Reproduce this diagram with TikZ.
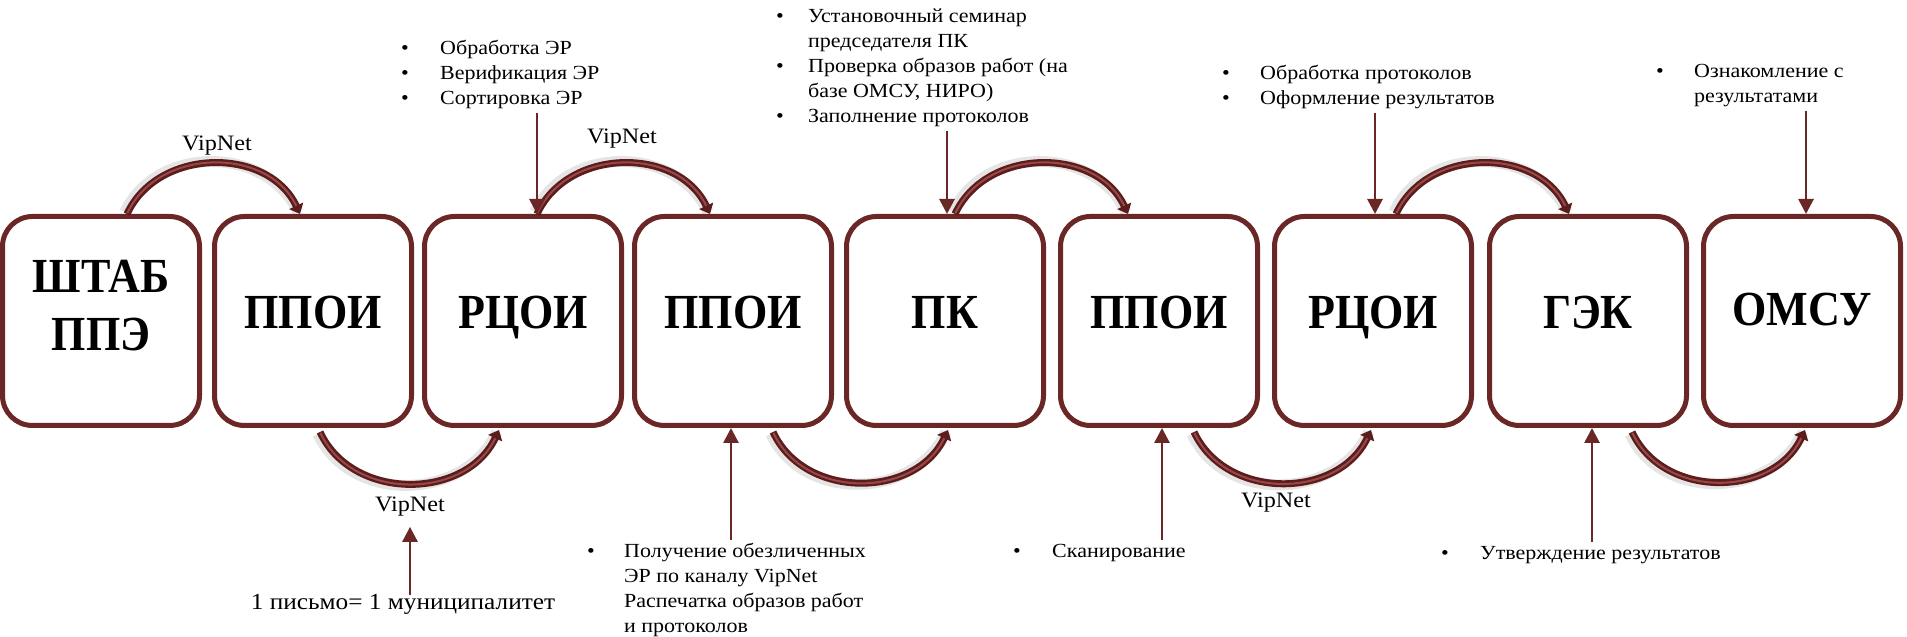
\documentclass[tikz,border=0pt]{standalone}
\usepackage{fontspec}
\setmainfont{Liberation Serif}[FakeStretch=1.1]
\newfontfamily\stagefont{Liberation Serif}[FakeStretch=0.9]
\definecolor{M}{RGB}{107,38,38}
\definecolor{Mdark}{RGB}{92,28,28}
\definecolor{Mlight}{RGB}{152,72,72}
\usetikzlibrary{arrows.meta}
\usetikzlibrary{calc}
\newcommand*{\notelist}[2]{\begin{tabular}[t]{@{}p{#1}@{}l@{}}#2\end{tabular}}
\newcommand*{\hoparc}[5]{%
  \draw [hopshade, transform canvas={shift={#5}}] (#1) to[out=#3,in=#4] (#2);
  \draw [hop] (#1) to[out=#3,in=#4] (#2);
  \draw [hopshine] (#1) to[out=#3,in=#4] (#2);
}
\tikzset{
  stage/.style={draw=M, line width=5pt, fill=white, rounded corners=30pt,
    minimum width=197pt, minimum height=209pt, inner sep=0pt},
  stagename/.style={font=\stagefont\bfseries\fontsize{49}{58}\selectfont,
    align=center, inner sep=0pt, text depth=0pt},
  note/.style={font=\fontsize{20}{25}\selectfont, anchor=base west, inner sep=0pt},
  vipnet/.style={font=\fontsize{22}{26}\selectfont, anchor=base, inner sep=0pt},
  feed/.style={draw=M, line width=2.8pt, -{Triangle[length=15pt,width=15pt]}},
  hop/.style={draw=Mdark, line width=7pt, looseness=1.1,
    -{Triangle[length=9pt,width=15pt]}},
  hopshine/.style={draw=Mlight, line width=2pt, looseness=1.1,
    shorten >=9pt, shorten <=1pt},
  hopshade/.style={draw=black, opacity=0.1, line width=11pt, looseness=1.1},
}

\begin{document}
\begin{tikzpicture}[x=1pt, y=1pt]
    \useasboundingbox (0,0) rectangle (1907,637);
    % stages
    \foreach \n/\x/\dy/\stagetxt in {1/101/16/{ШТАБ\\ППЭ}, 2/313/9/ППОИ,
        3/523/9/РЦОИ, 4/733/9/ППОИ, 5/945/9/ПК, 6/1159/9/ППОИ,
        7/1373/9/РЦОИ, 8/1588/9/ГЭК, 9/1802/12/ОМСУ} {
        \node [stage] (b\n) at (\x,316) {};
        \node [stagename] (s\n) at ([yshift=\dy]b\n.center) {\stagetxt};
    }

    % hops over the top
    \hoparc{[xshift=26pt]b1.north}{[xshift=-13pt]b2.north}{65}{115}{(-2pt,2pt)}
    \hoparc{[xshift=14pt]b3.north}{[xshift=-23pt]b4.north}{65}{115}{(-2pt,2pt)}
    \hoparc{[xshift=10pt]b5.north}{[xshift=-31pt]b6.north}{65}{115}{(-2pt,2pt)}
    \hoparc{[xshift=23pt]b7.north}{[xshift=-19pt]b8.north}{65}{115}{(-2pt,2pt)}
    % hops underneath
    \hoparc{[shift={(7pt,-4pt)}]b2.south}{[shift={(-24pt,-2pt)}]b3.south}{-65}{-115}{(-2pt,-2pt)}
    \hoparc{[shift={(40pt,-4pt)}]b4.south}{[shift={(3pt,-2pt)}]b5.south}{-65}{-115}{(-2pt,-2pt)}
    \hoparc{[shift={(35pt,-4pt)}]b6.south}{[shift={(-2pt,-2pt)}]b7.south}{-65}{-115}{(-2pt,-2pt)}
    \hoparc{[shift={(44pt,-4pt)}]b8.south}{[shift={(3pt,-2pt)}]b9.south}{-65}{-115}{(-2pt,-2pt)}

    \node [vipnet] (v1) at (217,486) {VipNet};
    \node [vipnet] (v2) at (622,493) {VipNet};
    \node [vipnet] (v3) at (410,125) {VipNet};
    \node [vipnet] (v4) at (1276,129) {VipNet};

    % notes
    \node [note] (n3) at (401,582) {\notelist{39pt}{•&Обработка ЭР\\•&Верификация ЭР\\•&Сортировка ЭР}};
    \node [note] (n5) at (776,614) {\notelist{32pt}{•&Установочный семинар\\&председателя ПК\\•&Проверка образов работ (на\\&базе ОМСУ, НИРО)\\•&Заполнение протоколов}};
    \node [note] (n7) at (1222,557) {\notelist{38pt}{•&Обработка протоколов\\•&Оформление результатов}};
    \node [note] (n9) at (1656,559) {\notelist{38pt}{•&Ознакомление с\\&результатами}};
    \node [note] (n4) at (587,79) {\notelist{37pt}{•&Получение обезличенных\\&ЭР по каналу VipNet\\&Распечатка образов работ\\&и протоколов}};
    \node [note] (n6) at (1013,79) {\notelist{39pt}{•&Сканирование}};
    \node [note] (n8) at (1441,77) {\notelist{39pt}{•&Утверждение результатов}};
    \node [vipnet, font=\fontsize{23}{27}\selectfont] (letter) at (403,27) {1 письмо= 1 муниципалитет};

    % feeds
    \coordinate (t3) at ([xshift=14pt]b3.north);
    \coordinate (t5) at ([xshift=2pt]b5.north);
    \coordinate (t7) at ([xshift=2pt]b7.north);
    \coordinate (t9) at ([xshift=4pt]b9.north);
    \coordinate (t4) at ([xshift=-2pt]b4.south);
    \coordinate (t6) at ([xshift=3pt]b6.south);
    \coordinate (t8) at ([xshift=4pt]b8.south);
    \draw [feed] (t3 |- n3.south) -- (t3);
    \draw [feed] (t5 |- n5.south) -- (t5);
    \draw [feed] (t7 |- n7.south) -- (t7);
    \draw [feed] (t9 |- n9.south) -- (t9);
    \draw [feed] (t4 |- n4.north) -- (t4);
    \draw [feed] (t6 |- n6.north) -- (t6);
    \draw [feed] (t8 |- n8.north) -- (t8);
    \draw [feed] (v3 |- letter.north) -- ([yshift=-10pt]v3.south);
\end{tikzpicture}
\end{document}
